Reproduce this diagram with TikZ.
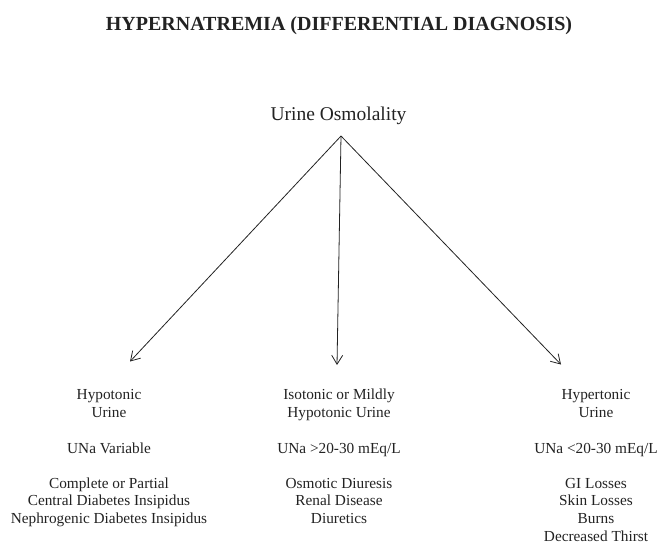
\documentclass[tikz,border=0pt]{standalone}
\usepackage{fontspec}
\setmainfont{Liberation Serif}
\usetikzlibrary{arrows.meta}
\definecolor{ink}{HTML}{222222}
\begin{document}
\begin{tikzpicture}[x=1pt,y=-1pt,
  txt/.style={inner sep=0pt,anchor=base,align=center,text=ink,font=\fontsize{15.3}{17.9}\selectfont},
  link/.style={draw=ink,line width=0.8pt,-{Straight Barb[length=9pt,width=11pt,line width=0.8pt]}}]
\useasboundingbox (0,0) rectangle (663,544);
\node[inner sep=0pt,anchor=base,text=ink,font=\fontsize{20}{24}\selectfont\bfseries] (title) at (339,30.5) {HYPERNATREMIA (DIFFERENTIAL DIAGNOSIS)};
\node[inner sep=0pt,anchor=base,text=ink,font=\fontsize{19.5}{23}\selectfont] (osm) at (338.5,120.5) {Urine Osmolality};
\coordinate (apex) at (341,136);
\coordinate (tl) at (130,361.5);
\coordinate (tm) at (337,365);
\coordinate (tr) at (561,364.5);
\draw[link] (apex) -- (tl);
\draw[link] (apex) -- (tm);
\draw[link] (apex) -- (tr);
% left column (base anchor = baseline of last line)
\node[txt] (l1) at (109,417) {Hypotonic\\Urine};
\node[txt] (l2) at (109,453) {UNa Variable};
\node[txt] (l3) at (109,523.8) {Complete or Partial\\Central Diabetes Insipidus\\Nephrogenic Diabetes Insipidus};
% middle column
\node[txt] (m1) at (339,417) {Isotonic or Mildly\\Hypotonic Urine};
\node[txt] (m2) at (339,453) {UNa >20-30 mEq/L};
\node[txt] (m3) at (339,523.8) {Osmotic Diuresis\\Renal Disease\\Diuretics};
% right column
\node[txt] (r1) at (596,417) {Hypertonic\\Urine};
\node[txt] (r2) at (596,453) {UNa <20-30 mEq/L};
\node[txt] (r3) at (596,541.7) {GI Losses\\Skin Losses\\Burns\\Decreased Thirst};
\end{tikzpicture}
\end{document}
